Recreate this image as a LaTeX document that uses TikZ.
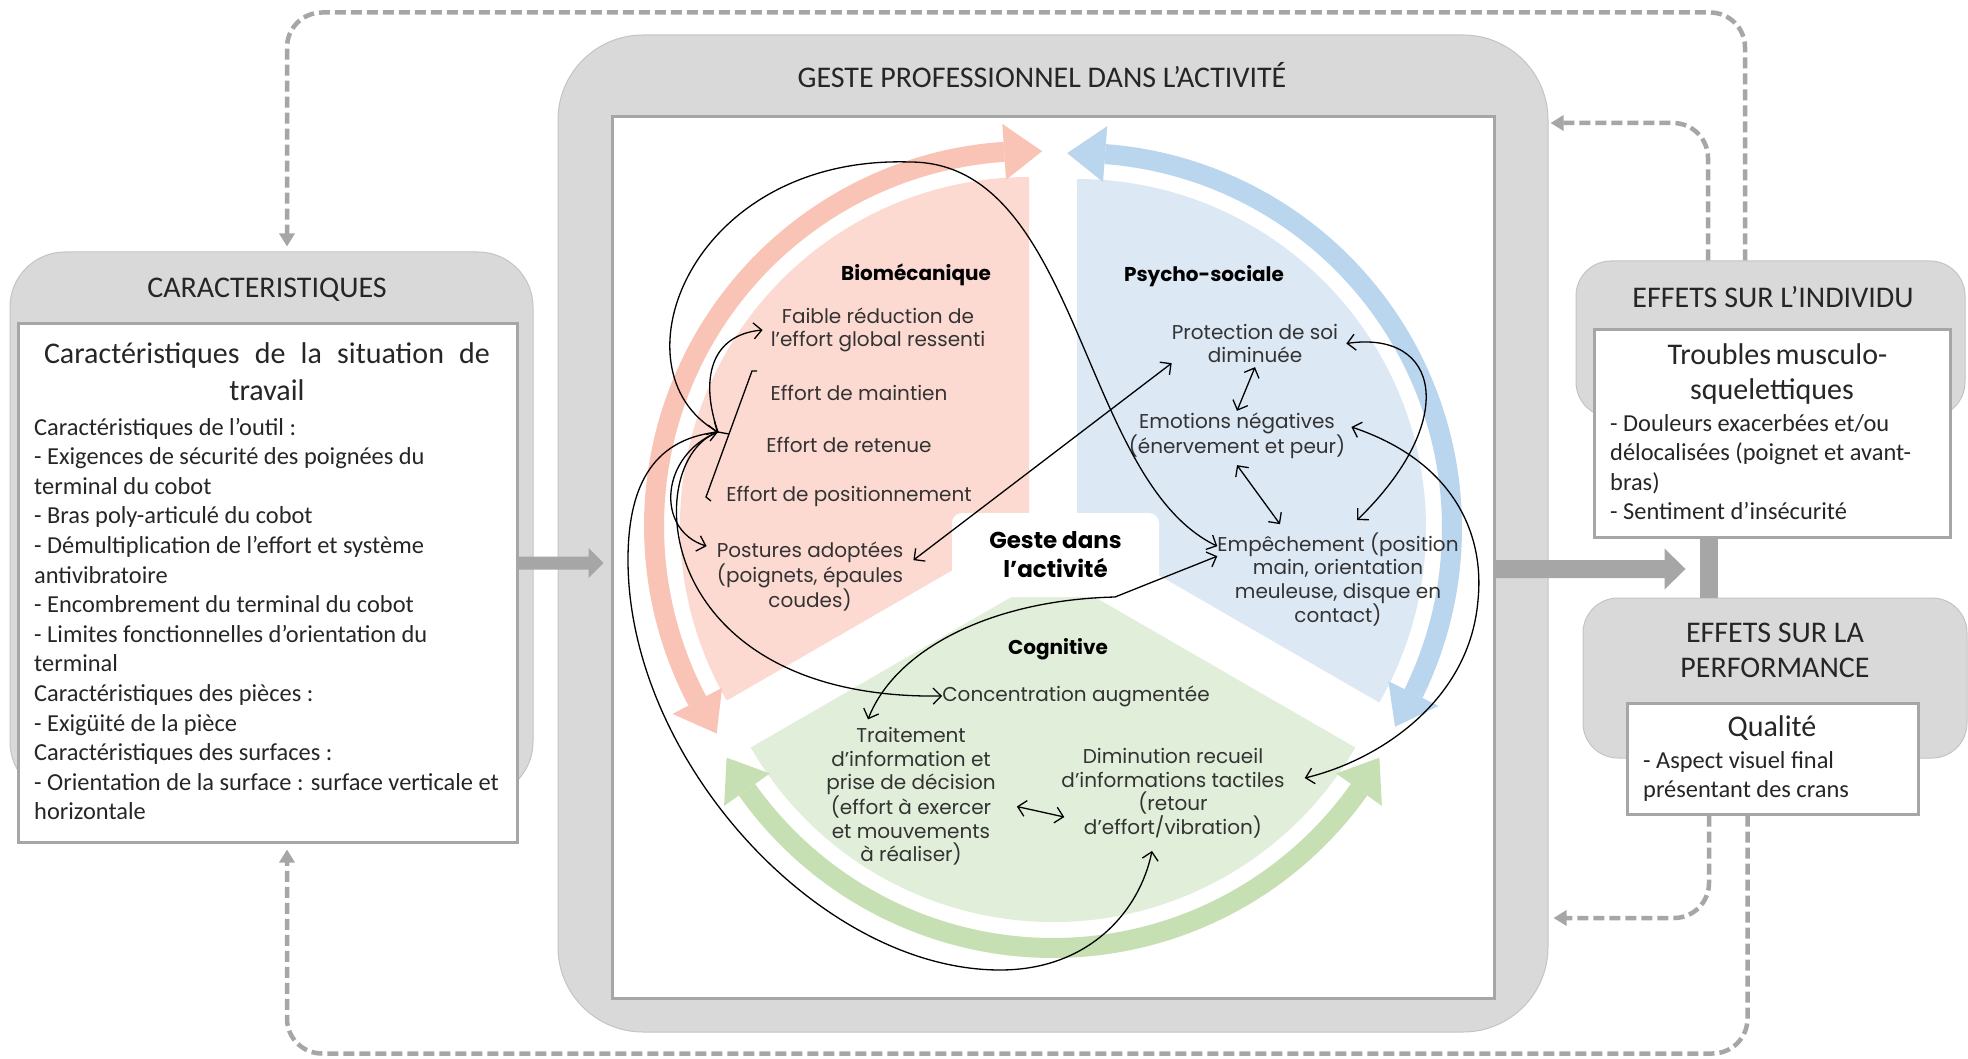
\documentclass[tikz,border=0pt]{standalone}
\usepackage{fontspec}
\setmainfont{Carlito}
\newfontfamily\gothic{Poppins}
\usetikzlibrary{arrows.meta,calc}
\definecolor{panel}{HTML}{D9D9D9}
\definecolor{panelline}{HTML}{C4C4C4}
\definecolor{dgray}{HTML}{A6A6A6}
\definecolor{txt}{HTML}{262626}
\definecolor{ctext}{HTML}{333333}
\definecolor{pinkfill}{HTML}{FCDAD1}
\definecolor{pinkarc}{HTML}{F9C3B5}
\definecolor{bluefill}{HTML}{DDE8F5}
\definecolor{bluearc}{HTML}{BAD5EE}
\definecolor{greenfill}{HTML}{E1EED9}
\definecolor{greenarc}{HTML}{C6E0B4}
\begin{document}
\begin{tikzpicture}[x=1pt,y=-1pt,
  >={Straight Barb[length=8pt,width=16pt]},
  panelbox/.style={fill=panel,draw=panelline,line width=1pt},
  whitebox/.style={fill=white,draw=dgray,line width=3pt},
  ttl/.style={font=\fontsize{30}{35}\selectfont,text=txt,align=center,inner sep=0pt},
  bodytxt/.style={font=\fontsize{24.4}{29.6}\selectfont,text=txt,align=left,inner sep=0pt,anchor=base west},
  ctxt/.style={font=\gothic\fontsize{20}{23.5}\selectfont,text=ctext,align=center,inner sep=0pt},
  chead/.style={font=\gothic\bfseries\fontsize{20}{24}\selectfont,text=black,inner sep=0pt},
  dashline/.style={draw=dgray,line width=4.5pt,dash pattern=on 11pt off 5pt,rounded corners=35pt},
  dashtip/.style={-{Triangle[length=13pt,width=15pt]}},
  blk/.style={draw=black,line width=1.3pt},
]
\path[use as bounding box, fill=white] (0,0) rectangle (1968,1059);

% ---------- boxes ----------
\node[panelbox, rounded corners=85pt, minimum width=990pt, minimum height=997pt] (geste) at (1053,533.5) {};
\node[whitebox, minimum width=882pt, minimum height=881pt] (gesteIn) at (1053,557.5) {};
\node[panelbox, rounded corners=55pt, minimum width=523pt, minimum height=545pt] (carac) at (271.5,524.5) {};
\node[whitebox, minimum width=499pt, minimum height=518pt] (caracIn) at (267.5,583) {};
\node[panelbox, rounded corners=35pt, minimum width=389pt, minimum height=156pt] (indiv) at (1770.5,339) {};
\node[whitebox, minimum width=356pt, minimum height=207pt] (indivIn) at (1772,433.5) {};
\node[panelbox, rounded corners=35pt, minimum width=384pt, minimum height=160pt] (perf) at (1775,678) {};
\node[whitebox, minimum width=291pt, minimum height=111pt] (perfIn) at (1772.5,758.5) {};

% ---------- dashed feedback lines ----------
\draw[dashline,dashtip] ([xshift=-25.5pt]indiv.north) -- ++(0,-248) -| ([xshift=15.5pt,yshift=5pt]carac.north);
\draw[dashline,dashtip] ([xshift=-25pt]perfIn.south) -- ++(0,238) -| ([xshift=19.5pt,yshift=-6pt]caracIn.south);
\draw[dashline,dashtip] ([xshift=-62.5pt]indiv.north) |- ([xshift=2pt,yshift=410.5pt]geste.east);
\draw[dashline,dashtip] ([xshift=-63.5pt]perfIn.south) |- ([xshift=5pt,yshift=-384.5pt]geste.east);

% ---------- block arrows ----------
\fill[dgray] ($(caracIn.east)+(0,-26.5)$) -- ++(70,0) -- ++(0,-8.5) -- ++(15,15) -- ++(-15,15) -- ++(0,-8.5) -- ++(-70,0) -- cycle;
\fill[dgray] ($(gesteIn.east)+(0,2.5)$) -- ++(169,0) -- ++(0,-11.5) -- ++(21,20.5) -- ++(-21,20.5) -- ++(0,-11.5) -- ++(-169,0) -- cycle;
\fill[dgray] ($(indivIn.south)+(-72,0)$) rectangle ($(perf.north)+(-57,0)$);

% ---------- box texts ----------
\node[ttl] (caracT) at (267,290) {CARACTERISTIQUES};
\node[ttl,font=\fontsize{30}{37}\selectfont] (caracS) at (267,371.5) {\makebox[446pt][s]{Caractéristiques de la situation de}\\travail};
\node[bodytxt] (caracB) at (34,819.8) {Caractéristiques de l’outil :\\
- Exigences de sécurité des poignées du\\
terminal du cobot\\
- Bras poly-articulé du cobot\\
- Démultiplication de l’effort et système\\
antivibratoire\\
- Encombrement du terminal du cobot\\
- Limites fonctionnelles d’orientation du\\
terminal\\
Caractéristiques des pièces :\\
- Exigüité de la pièce\\
Caractéristiques des surfaces :\\
- Orientation de la surface : surface verticale et\\
horizontale};
\node[ttl] (indivT) at (1773,297) {EFFETS SUR L’INDIVIDU};
\node[ttl] (indivS) at (1772,374.5) {\makebox[209pt][s]{Troubles musculo-}\\squelettiques};
\node[bodytxt] (indivB) at (1610,519.8) {- Douleurs exacerbées et/ou\\délocalisées (poignet et avant-\\bras)\\- Sentiment d’insécurité};
\node[ttl] (perfT) at (1775,650.5) {EFFETS SUR LA\\PERFORMANCE};
\node[ttl] (perfS) at (1772,728) {Qualité};
\node[bodytxt] (perfB) at (1643,797.6) {- Aspect visuel final\\présentant des crans};
\node[ttl] (gesteT) at (1042,75) {GESTE PROFESSIONNEL DANS L’ACTIVITÉ};

% ---------- centre: pieces ----------
\coordinate (P) at (1029,526);
\coordinate (B) at (1077,528);
\coordinate (G) at (1053,573);
\fill[pinkfill] (P) -- ($(P)+(-90:349)$) arc[start angle=-90,end angle=-210,radius=349] -- cycle;
\fill[bluefill] (B) -- ($(B)+(-90:349)$) arc[start angle=-90,end angle=30,radius=349] -- cycle;
\fill[greenfill] (G) -- ($(G)+(150:349)$) arc[start angle=150,end angle=30,radius=349] -- cycle;

% thick circular arrows
\draw[pinkarc,line width=20pt] ($(P)+(-93.8:375)$) arc[start angle=-93.8,end angle=-207.8,radius=375];
\fill[pinkarc] ($(P)+(-93.8:347)$) -- ($(P)+(-93.8:403)$) -- ($(P)+(-88:375)$) -- cycle;
\fill[pinkarc] ($(P)+(-207.8:347)$) -- ($(P)+(-207.8:403)$) -- ($(P)+(-213.6:375)$) -- cycle;
\draw[bluearc,line width=20pt] ($(B)+(-85.7:375)$) arc[start angle=-85.7,end angle=26.2,radius=375];
\fill[bluearc] ($(B)+(-85.7:347)$) -- ($(B)+(-85.7:403)$) -- ($(B)+(-91.5:375)$) -- cycle;
\fill[bluearc] ($(B)+(26.2:347)$) -- ($(B)+(26.2:403)$) -- ($(B)+(32:375)$) -- cycle;
\draw[greenarc,line width=20pt] ($(G)+(144.7:375)$) arc[start angle=144.7,end angle=35.3,radius=375];
\fill[greenarc] ($(G)+(144.7:347)$) -- ($(G)+(144.7:403)$) -- ($(G)+(150.5:375)$) -- cycle;
\fill[greenarc] ($(G)+(35.3:347)$) -- ($(G)+(35.3:403)$) -- ($(G)+(29.5:375)$) -- cycle;

\node[fill=white, rounded corners=10pt, minimum width=207pt, minimum height=84pt,
      font=\gothic\bfseries\fontsize{23}{29}\selectfont, align=center, inner sep=0pt] (label) at (1055.5,555) {Geste dans\\l’activité};

% ---------- centre texts ----------
\node[chead] (bio) at (916,275) {Biomécanique};
\node[ctxt] (faible) at (878,330) {Faible réduction de\\l’effort global ressenti};
\node[ctxt] (maint) at (859,393) {Effort de maintien};
\node[ctxt] (ret) at (849,445) {Effort de retenue};
\node[ctxt] (posi) at (849,496) {Effort de positionnement};
\node[ctxt] (post) at (810,577) {Postures adoptées\\(poignets, épaules\\coudes)};
\node[chead] (psy) at (1204,276) {Psycho-sociale};
\node[ctxt] (prot) at (1255,343.5) {Protection de soi\\diminuée};
\node[ctxt] (emo) at (1237,436) {Emotions négatives\\(énervement et peur)};
\node[ctxt] (emp) at (1338,579.5) {Empêchement (position\\main, orientation\\meuleuse, disque en\\contact)};
\node[chead] (cog) at (1058,649) {Cognitive};
\node[ctxt] (conc) at (1076,696) {Concentration augmentée};
\node[ctxt] (trait) at (911,796.5) {Traitement\\d’information et\\prise de décision\\(effort à exercer\\et mouvements\\à réaliser)};
\node[ctxt] (dimi) at (1173,793) {Diminution recueil\\d’informations tactiles\\(retour\\d’effort/vibration)};

% ---------- bracket ----------
\coordinate (brk) at (718,432);
\draw[blk] (757,371) -- (752,371) -- (706,497) -- (711,501);
\draw[blk] (729,434) -- (brk);

% ---------- connectors ----------
\draw[blk,<->] (brk) .. controls (610,370) and (690,155) .. (910,162)
   .. controls (1080,162) and (1080,480) .. ([yshift=-14pt]emp.north west);
\draw[blk,<->] (brk) .. controls (650,440) and (628,490) .. (628,560)
   .. controls (628,760) and (820,970) .. (1000,970)
   .. controls (1090,970) and (1140,910) .. ([xshift=-21pt,yshift=-13pt]dimi.south);
\draw[blk,->] (brk) .. controls (640,460) and (650,700) .. (conc.west);
\draw[blk,->] (brk) .. controls (660,455) and (655,530) .. ([xshift=-10pt,yshift=-4pt]post.north west);
\draw[blk,->] (brk) .. controls (700,380) and (710,335) .. ([xshift=-8pt]faible.west);
\draw[blk,<->] ([xshift=10pt,yshift=-18pt]post.north east) -- (prot.south west);
\draw[blk,<->] ([yshift=-4pt]prot.south) -- ([yshift=2pt]emo.north);
\draw[blk,<->] ([yshift=-6pt]emo.south) -- ([xshift=-58pt,yshift=8pt]emp.north);
\draw[blk,<->] ([xshift=8pt]prot.east) .. controls (1440,330) and (1460,420) .. ([xshift=19pt,yshift=12pt]emp.north);
\draw[blk,<->] ([xshift=6pt,yshift=9pt]emo.east) .. controls (1450,460) and (1485,530) .. (1478,600)
   .. controls (1470,700) and (1380,760) .. ([xshift=20pt,yshift=15pt]dimi.east);
\draw[blk,<->] ([xshift=-43pt,yshift=8pt]trait.north) .. controls (895,650) and (990,600) .. (1115,597)
   -- ([yshift=-24pt]emp.north west);
\draw[blk,<->] ([xshift=21pt,yshift=-10pt]trait.east) -- ([xshift=3pt,yshift=-24pt]dimi.west);
\end{tikzpicture}
\end{document}
